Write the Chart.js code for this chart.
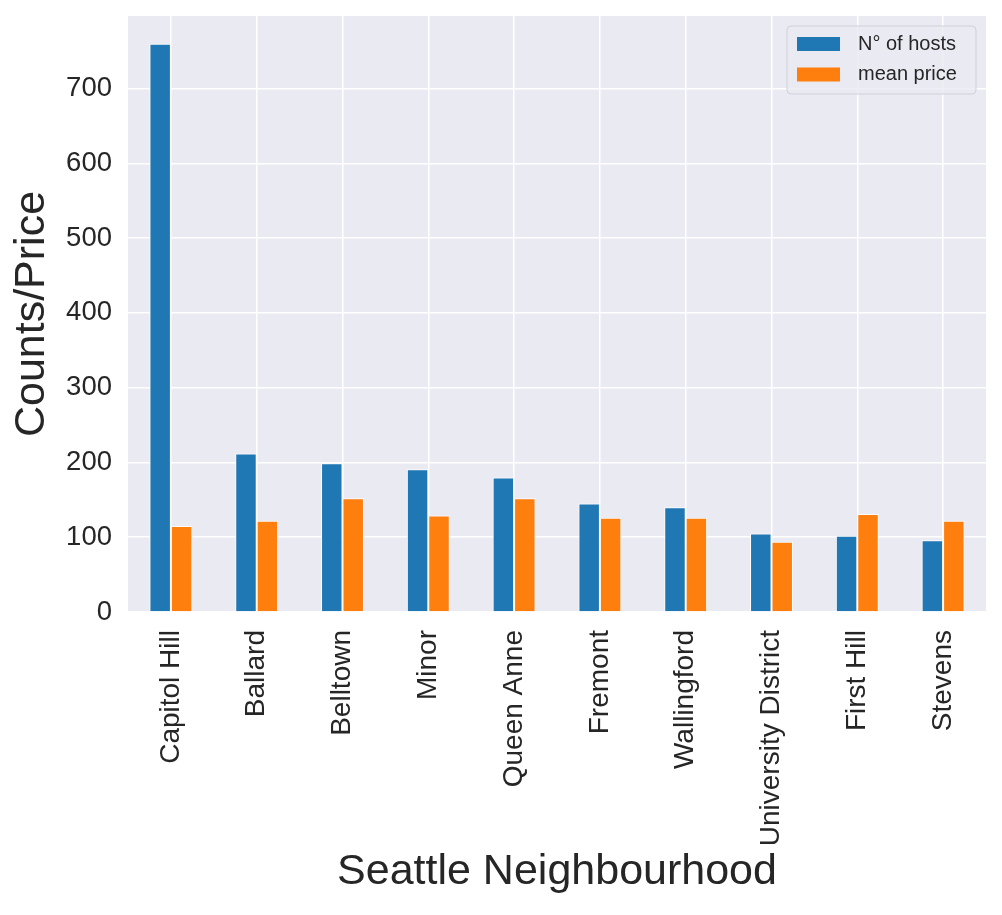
<!DOCTYPE html>
<html>
<head>
<meta charset="utf-8">
<script src="https://cdn.jsdelivr.net/npm/chart.js@4/dist/chart.umd.min.js"></script>
<style>
  html, body { margin: 0; padding: 0; background: #fff; }
  #wrap { width: 1002px; height: 915px; }
</style>
</head>
<body>
<div id="wrap"><canvas id="chart" width="1002" height="915"></canvas></div>
<script>
// Seattle neighbourhoods: host counts vs mean price
const neighbourhoods = ['Capitol Hill', 'Ballard', 'Belltown', 'Minor', 'Queen Anne',
  'Fremont', 'Wallingford', 'University District', 'First Hill', 'Stevens'];
const hostCounts = [760, 212, 199, 191, 180, 145, 140, 105, 102, 96];
const meanPrices = [115, 122, 152, 129, 152, 126, 126, 94, 131, 122];
const yTicks = [0, 100, 200, 300, 400, 500, 600, 700];

const SNS = {
  blue:   '#1f77b4',
  orange: '#ff7f0e',
  panel:  '#eaeaf2',
  grid:   '#ffffff',
  text:   '#262626',
  font:   "'Liberation Sans', Arial, sans-serif",
};

// grey panel behind the plot
const panelBg = {
  id: 'panelBg',
  beforeDraw(chart) {
    const { ctx, chartArea: a } = chart;
    ctx.save();
    ctx.fillStyle = SNS.panel;
    ctx.fillRect(a.left, a.top, a.right - a.left, a.bottom - a.top);
    ctx.restore();
  }
};

// matplotlib-like legend box in the upper right corner
const boxLegend = {
  id: 'boxLegend',
  afterDraw(chart) {
    const { ctx } = chart;
    const x = 787, y = 26, w = 189, h = 68;
    ctx.save();
    ctx.beginPath();
    ctx.roundRect(x, y, w, h, 4);
    ctx.fillStyle = 'rgba(234,234,242,0.8)';
    ctx.fill();
    ctx.strokeStyle = '#cfd0d8';
    ctx.lineWidth = 1;
    ctx.stroke();
    ctx.font = '20px ' + SNS.font;
    ctx.textBaseline = 'middle';
    chart.data.datasets.forEach((ds, i) => {
      const cy = y + 18 + i * 30.5;
      ctx.fillStyle = ds.backgroundColor;
      ctx.fillRect(x + 10, cy - 7, 43, 14);
      ctx.fillStyle = SNS.text;
      ctx.fillText(ds.label, x + 71, cy);
    });
    ctx.restore();
  }
};

new Chart(document.getElementById('chart').getContext('2d'), {
  type: 'bar',
  data: {
    labels: neighbourhoods,
    datasets: [
      { label: 'N° of hosts', data: hostCounts, backgroundColor: SNS.blue,
        borderColor: '#ffffff', borderWidth: 1, categoryPercentage: 0.5, barPercentage: 1 },
      { label: 'mean price', data: meanPrices, backgroundColor: SNS.orange,
        borderColor: '#ffffff', borderWidth: 1, categoryPercentage: 0.5, barPercentage: 1 },
    ]
  },
  options: {
    responsive: false,
    animation: false,
    layout: { padding: { top: 16, right: 16, left: 0, bottom: 0 } },
    plugins: {
      legend: { display: false },
      tooltip: { enabled: false }
    },
    scales: {
      x: {
        grid: { color: SNS.grid, lineWidth: 1.5, offset: false, drawTicks: false },
        border: { display: false },
        ticks: {
          color: SNS.text, font: { family: SNS.font, size: 28 },
          minRotation: 90, maxRotation: 90, padding: 18, autoSkip: false
        },
        title: {
          display: true, text: 'Seattle Neighbourhood', color: SNS.text,
          font: { family: SNS.font, size: 43 }, padding: { top: 17, bottom: 17 }
        },
        afterFit(scale) { scale.height = 303; }
      },
      y: {
        min: 0, max: 797,
        grid: { color: SNS.grid, lineWidth: 1.5, drawTicks: false },
        border: { display: false },
        ticks: {
          color: SNS.text, font: { family: SNS.font, size: 27.5 },
          padding: 16, stepSize: 100, includeBounds: false
        },
        afterBuildTicks(scale) { scale.ticks = yTicks.map(v => ({ value: v })); },
        title: {
          display: true, text: 'Counts/Price', color: SNS.text,
          font: { family: SNS.font, size: 43 }, padding: { top: 6, bottom: 6 }
        },
        afterFit(scale) {
          scale.width = 128;
          scale.paddingTop = 0;
          scale.paddingBottom = 0;
        }
      }
    }
  },
  plugins: [panelBg, boxLegend]
});
</script>
</body>
</html>
